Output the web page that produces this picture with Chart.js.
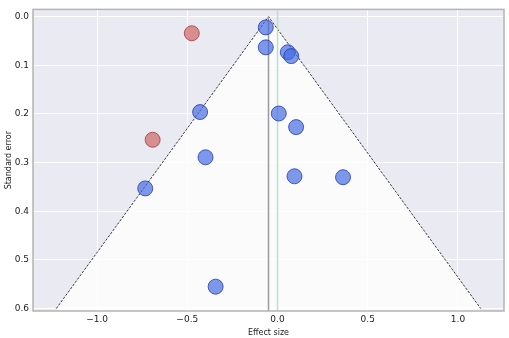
<!DOCTYPE html>
<html>
<head>
<meta charset="utf-8">
<script src="https://cdn.jsdelivr.net/npm/chart.js@4"></script>
<style>
html,body{margin:0;padding:0;background:#fff;}
#wrap{width:509px;height:338px;}
</style>
</head>
<body>
<div id="wrap"><canvas id="c" width="509" height="338"></canvas></div>
<script>
// Study effects (x) and standard errors (y)
const studyEffect = [-0.065, -0.065, 0.057, 0.076, -0.429, 0.007, 0.103, -0.399, -0.733, 0.094, 0.363, -0.343];
const studySE     = [0.022, 0.063, 0.073, 0.081, 0.196, 0.199, 0.227, 0.289, 0.353, 0.328, 0.330, 0.555];
// Outlying studies (red)
const outlierEffect = [-0.475, -0.692];
const outlierSE     = [0.034, 0.253];
// Funnel (pseudo 95% CI) edges
const funnelEffect = [-1.226, -0.05, 1.126];
const funnelSE     = [0.6, 0.0, 0.6];
// Pooled estimate and null line
const pooledEffect = -0.05;
const nullEffect = 0.0;
// Tick labels
const xTicks = [-1.0, -0.5, 0.0, 0.5, 1.0];
const yTicks = [0.0, 0.1, 0.2, 0.3, 0.4, 0.5, 0.6];

const X_MIN = -1.355, X_MAX = 1.255, Y_MIN = -0.015, Y_MAX = 0.605;
const FONT = "'DejaVu Sans', sans-serif";
const fmt = v => (v < 0 ? '\u2212' : '') + Math.abs(v).toFixed(1);

const bgPlugin = {
  id: 'bg',
  beforeDraw(chart) {
    const {ctx, chartArea: a} = chart;
    ctx.save();
    ctx.fillStyle = '#eaeaf2';
    ctx.fillRect(a.left, a.top, a.right - a.left, a.bottom - a.top);
    ctx.restore();
  },
  afterDraw(chart) {
    const {ctx, chartArea: a} = chart;
    ctx.save();
    ctx.strokeStyle = '#b4b4b4';
    ctx.lineWidth = 1.5;
    ctx.strokeRect(a.left, a.top, a.right - a.left, a.bottom - a.top);
    ctx.restore();
  }
};

new Chart(document.getElementById('c'), {
  type: 'scatter',
  data: {
    datasets: [
      {
        label: 'studies',
        data: studyEffect.map((x, i) => ({x, y: studySE[i]})),
        pointRadius: 7.5,
        pointHoverRadius: 7.5,
        backgroundColor: 'rgba(65,105,225,0.68)',
        borderColor: 'rgba(30,50,170,0.75)',
        borderWidth: 1,
        order: 0
      },
      {
        label: 'outliers',
        data: outlierEffect.map((x, i) => ({x, y: outlierSE[i]})),
        pointRadius: 7.5,
        pointHoverRadius: 7.5,
        backgroundColor: 'rgba(205,92,92,0.65)',
        borderColor: 'rgba(160,40,40,0.7)',
        borderWidth: 1,
        order: 0
      },
      {
        type: 'line',
        label: 'funnel',
        data: funnelEffect.map((x, i) => ({x, y: funnelSE[i]})),
        borderColor: '#222',
        borderWidth: 0.9,
        borderDash: [2.5, 1.5],
        pointRadius: 0,
        fill: {value: Y_MAX},
        backgroundColor: 'rgba(255,255,255,0.78)',
        tension: 0,
        order: 3
      },
      {
        type: 'line',
        label: 'pooled',
        data: [{x: pooledEffect, y: 0}, {x: pooledEffect, y: Y_MAX}],
        borderColor: '#9a9a9a',
        borderWidth: 1.5,
        pointRadius: 0,
        fill: false,
        order: 2
      },
      {
        type: 'line',
        label: 'null',
        data: [{x: nullEffect, y: Y_MIN}, {x: nullEffect, y: Y_MAX}],
        borderColor: '#b6e2cc',
        borderWidth: 1.5,
        pointRadius: 0,
        fill: false,
        order: 2
      }
    ]
  },
  options: {
    responsive: false,
    animation: false,
    devicePixelRatio: 1,
    layout: {autoPadding: false, padding: {left: 4, top: 0, right: 5, bottom: 0}},
    plugins: {legend: {display: false}, tooltip: {enabled: false}},
    scales: {
      x: {
        type: 'linear',
        min: X_MIN, max: X_MAX,
        afterBuildTicks: s => { s.ticks = xTicks.map(v => ({value: v})); },
        afterFit: s => { s.height = 27; },
        grid: {color: '#ffffff', lineWidth: 1, drawTicks: false},
        border: {display: false},
        ticks: {font: {family: FONT, size: 9}, color: '#222', padding: 3, maxRotation: 0, callback: v => fmt(v)},
        title: {display: true, text: 'Effect size', font: {family: FONT, size: 8}, color: '#222', padding: {top: 0, bottom: 0}}
      },
      y: {
        type: 'linear',
        reverse: true,
        min: Y_MIN, max: Y_MAX,
        afterBuildTicks: s => { s.ticks = yTicks.map(v => ({value: v})); },
        afterFit: s => { s.width = 29; },
        grid: {color: '#ffffff', lineWidth: 1, drawTicks: false},
        border: {display: false},
        ticks: {font: {family: FONT, size: 9}, color: '#222', padding: 4, callback: v => fmt(v)},
        title: {display: true, text: 'Standard error', font: {family: FONT, size: 8}, color: '#222', padding: {top: 0, bottom: 0}}
      }
    }
  },
  plugins: [bgPlugin]
});
</script>
</body>
</html>
